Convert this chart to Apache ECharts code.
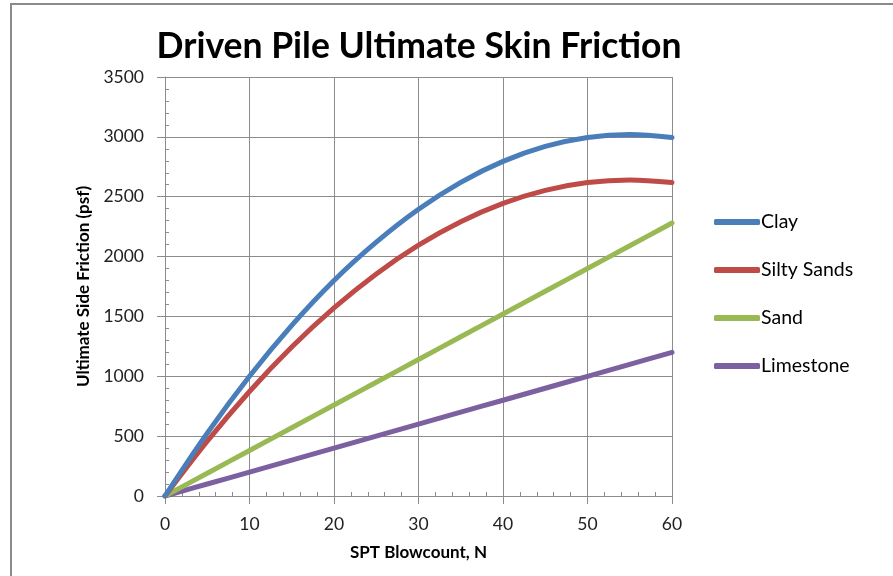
<!DOCTYPE html>
<html>
<head>
<meta charset="utf-8">
<script src="https://cdn.jsdelivr.net/npm/echarts@6/dist/echarts.min.js"></script>
<style>
html,body{margin:0;padding:0;background:#fff;}
#chart{width:893px;height:576px;}
</style>
</head>
<body>
<div id="chart"></div>
<script>
const blowcount = [0, 5, 10, 15, 20, 25, 30, 35, 40, 45, 50, 55, 60];
const clay = [0, 525, 1000, 1425, 1800, 2120, 2395, 2620, 2795, 2920, 2995, 3020, 2995];
const siltySands = [0, 458, 873, 1244, 1571, 1855, 2095, 2291, 2444, 2553, 2618, 2640, 2618];
const sand = [0, 190, 380, 570, 760, 950, 1140, 1330, 1520, 1710, 1900, 2090, 2280];
const limestone = [0, 100, 200, 300, 400, 500, 600, 700, 800, 900, 1000, 1100, 1200];
const seriesNames = ['Clay', 'Silty Sands', 'Sand', 'Limestone'];
const seriesColors = ['#4A7EBB', '#BE4B48', '#98B954', '#7D60A0'];
const seriesData = [clay, siltySands, sand, limestone];

const FONT = 'Lato, "Open Sans", sans-serif';
const gridColor = '#8C8C8C';

const chart = echarts.init(document.getElementById('chart'));
const pairs = d => blowcount.map((n, i) => [n, d[i]]);

chart.setOption({
  animation: false,
  backgroundColor: '#fff',
  title: {
    text: 'Driven Pile Ultimate Skin Friction',
    left: 414, top: 24, textAlign: 'center',
    textStyle: { fontFamily: FONT, fontWeight: 'bold', fontSize: 35.5, color: '#000' }
  },
  graphic: [{
    type: 'rect', shape: { x: 11, y: 4, width: 920, height: 620 },
    style: { fill: 'none', stroke: '#8A8A8A', lineWidth: 2 }, silent: true, z: 100
  }],
  grid: { left: 165, right: 221, top: 77, bottom: 80, containLabel: false },
  legend: {
    orient: 'vertical', left: 714, top: 211, padding: 0,
    icon: 'roundRect', itemWidth: 46, itemHeight: 6, itemGap: 26,
    textStyle: { fontFamily: FONT, fontSize: 19.5, color: '#000', lineHeight: 22, padding: [0, 0, 0, -4] },
    data: seriesNames
  },
  xAxis: [{
    type: 'value', min: 0, max: 60, interval: 10, position: 'bottom',
    name: 'SPT Blowcount, N', nameLocation: 'middle', nameGap: 48,
    nameTextStyle: { fontFamily: FONT, fontWeight: 'bold', fontSize: 17, color: '#000' },
    axisLine: { show: true, lineStyle: { color: gridColor, width: 1 } },
    axisTick: { show: true, length: 8, lineStyle: { color: gridColor } },
    axisLabel: { fontFamily: FONT, fontSize: 17.5, color: '#222', margin: 19 },
    splitLine: { show: true, lineStyle: { color: gridColor, width: 1 } }
  }, {
    type: 'value', min: 0, max: 60, interval: 10, position: 'bottom',
    axisLine: { show: false }, axisLabel: { show: false },
    axisTick: { show: false, inside: true },
    minorTick: { show: true, splitNumber: 5, length: 4, lineStyle: { color: gridColor } },
    splitLine: { show: false }
  }],
  yAxis: [{
    type: 'value', min: 0, max: 3500, interval: 500, position: 'left',
    name: 'Ultimate Side Friction (psf)', nameLocation: 'middle', nameGap: 71,
    nameTextStyle: { fontFamily: FONT, fontWeight: 'bold', fontSize: 17, color: '#000' },
    axisLine: { show: true, lineStyle: { color: gridColor, width: 1 } },
    axisTick: { show: true, length: 8, lineStyle: { color: gridColor } },
    axisLabel: { fontFamily: FONT, fontSize: 17.5, color: '#222', margin: 21, formatter: v => String(v) },
    splitLine: { show: true, lineStyle: { color: gridColor, width: 1 } }
  }, {
    type: 'value', min: 0, max: 3500, interval: 500, position: 'left',
    axisLine: { show: false }, axisLabel: { show: false },
    axisTick: { show: false, inside: true },
    minorTick: { show: true, splitNumber: 5, length: 4, lineStyle: { color: gridColor } },
    splitLine: { show: false }
  }],
  series: seriesNames.map((name, i) => ({
    name, type: 'line', smooth: 0.35, showSymbol: false, symbol: 'none',
    xAxisIndex: 0, yAxisIndex: 0,
    data: pairs(seriesData[i]),
    color: seriesColors[i],
    lineStyle: { width: 5, color: seriesColors[i], cap: 'round' },
    z: 3 + (3 - i)
  }))
});
</script>
</body>
</html>
